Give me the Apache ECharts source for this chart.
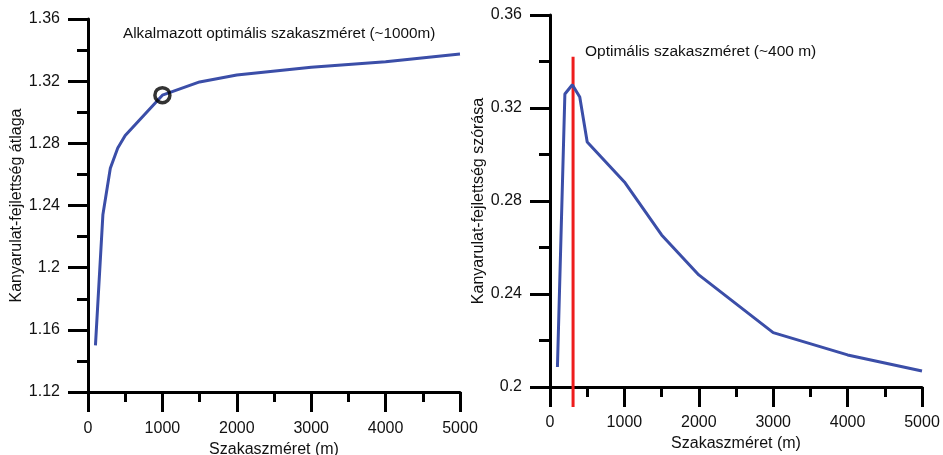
<!DOCTYPE html>
<html>
<head>
<meta charset="utf-8">
<script src="https://cdn.jsdelivr.net/npm/echarts@6/dist/echarts.min.js"></script>
<style>
  html, body { margin: 0; padding: 0; background: #fff; }
  #chart { width: 943px; height: 455px; }
</style>
</head>
<body>
<div id="chart"></div>
<script>
// szakaszméret (m)
var segSize = [100, 200, 300, 400, 500, 1000, 1500, 2000, 3000, 4000, 5000];
// kanyarulat-fejlettség átlaga
var meanVals = [1.150, 1.234, 1.264, 1.277, 1.285, 1.311, 1.3195, 1.324, 1.329, 1.3325, 1.3375];
// kanyarulat-fejlettség szórása
var sdVals = [0.2086, 0.326, 0.330, 0.3247, 0.3054, 0.2882, 0.2654, 0.2482, 0.2234, 0.2138, 0.2069];
// kijelölt pontok
var chosenLeft = [[1000, 1.311]];
var optLine = [[310, 0.342], [310, 0.1914]];

var FONT = "'Liberation Sans', Arial, sans-serif";
var BLUE = '#3b4ea8';

var myChart = echarts.init(document.getElementById('chart'), null, { renderer: 'canvas' });

function pairs(xs, ys) {
    return xs.map(function (x, i) { return [x, ys[i]]; });
}

function xAxisCfg(gridIndex, labelMargin, gap) {
    return {
        gridIndex: gridIndex,
        type: 'value',
        min: 0, max: 5000, interval: 1000,
        name: 'Szakaszméret (m)',
        nameLocation: 'middle',
        nameGap: gap,
        nameTextStyle: { color: '#111', fontSize: 16, fontFamily: FONT },
        axisLine: { show: true, lineStyle: { color: '#000', width: 3 } },
        axisTick: { show: true, length: 20, lineStyle: { color: '#000', width: 3 } },
        minorTick: { show: true, splitNumber: 2, length: 10, lineStyle: { color: '#000', width: 3 } },
        splitLine: { show: false },
        axisLabel: {
            color: '#111', fontSize: 16, fontFamily: FONT, margin: labelMargin,
            formatter: function (v) { return String(v); }
        }
    };
}

function yAxisCfg(gridIndex, name, min, max, gap) {
    return {
        gridIndex: gridIndex,
        type: 'value',
        min: min, max: max, interval: 0.04,
        name: name,
        nameLocation: 'middle',
        nameGap: gap,
        nameTextStyle: { color: '#111', fontSize: 16, fontFamily: FONT },
        axisLine: { show: true, lineStyle: { color: '#000', width: 3 } },
        axisTick: { show: true, length: 20, lineStyle: { color: '#000', width: 3 } },
        minorTick: { show: true, splitNumber: 2, length: 11, lineStyle: { color: '#000', width: 3 } },
        splitLine: { show: false },
        axisLabel: {
            color: '#111', fontSize: 16, fontFamily: FONT, margin: 28,
            formatter: function (v) { return String(parseFloat(v.toFixed(2))); }
        }
    };
}

var option = {
    backgroundColor: '#fff',
    animation: false,
    grid: [
        { left: 88, top: 19, width: 372, height: 373, outerBoundsMode: 'none' },
        { left: 550, top: 15, width: 372, height: 372, outerBoundsMode: 'none' }
    ],
    xAxis: [xAxisCfg(0, 29, 50), xAxisCfg(1, 28, 47)],
    yAxis: [
        yAxisCfg(0, 'Kanyarulat-fejlettség átlaga', 1.12, 1.36, 62),
        yAxisCfg(1, 'Kanyarulat-fejlettség szórása', 0.2, 0.36, 58)
    ],
    graphic: [
        {
            type: 'text', left: 123, top: 26,
            style: { text: 'Alkalmazott optimális szakaszméret (~1000m)', fill: '#111', fontSize: 15.3, fontFamily: FONT }
        },
        {
            type: 'text', left: 585, top: 44,
            style: { text: 'Optimális szakaszméret (~400 m)', fill: '#111', fontSize: 15.5, fontFamily: FONT }
        }
    ],
    series: [
        {
            type: 'line',
            xAxisIndex: 0, yAxisIndex: 0,
            data: pairs(segSize, meanVals),
            showSymbol: false,
            lineStyle: { color: BLUE, width: 3 },
            z: 3
        },
        {
            type: 'scatter',
            xAxisIndex: 0, yAxisIndex: 0,
            data: chosenLeft,
            symbol: 'circle',
            symbolSize: 15,
            itemStyle: { color: 'rgba(0,0,0,0)', borderColor: '#000', borderWidth: 3.5 },
            z: 4
        },
        {
            type: 'line',
            xAxisIndex: 1, yAxisIndex: 1,
            data: optLine,
            showSymbol: false,
            clip: false,
            lineStyle: { color: '#ee1c1c', width: 3 },
            z: 2
        },
        {
            type: 'line',
            xAxisIndex: 1, yAxisIndex: 1,
            data: pairs(segSize, sdVals),
            showSymbol: false,
            lineStyle: { color: BLUE, width: 3 },
            z: 3
        }
    ]
};

myChart.setOption(option);
</script>
</body>
</html>
